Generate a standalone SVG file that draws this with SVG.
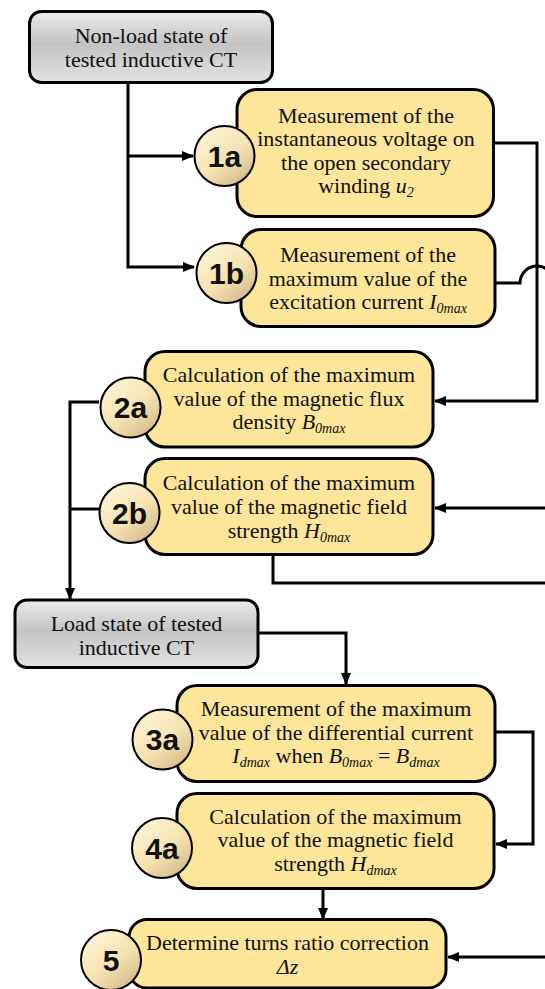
<svg xmlns="http://www.w3.org/2000/svg" width="545" height="989" viewBox="0 0 545 989">
<defs>
<linearGradient id="gGray" x1="0" y1="0" x2="0" y2="1">
<stop offset="0" stop-color="#ececec"/>
<stop offset="0.45" stop-color="#c3c3c3"/>
<stop offset="1" stop-color="#e2e2e2"/>
</linearGradient>
<linearGradient id="gCircle" x1="0.2" y1="0.1" x2="0.85" y2="0.9">
<stop offset="0" stop-color="#fdf3d2"/>
<stop offset="0.55" stop-color="#f4e2b0"/>
<stop offset="1" stop-color="#d6bd8c"/>
</linearGradient>
<marker id="arr" markerUnits="userSpaceOnUse" markerWidth="12" markerHeight="10" refX="11" refY="5" orient="auto">
<path d="M0,0 L12,5 L0,10 Z" fill="#000"/>
</marker>
</defs>
<style>
.gray{fill:url(#gGray);stroke:#000;stroke-width:3}
.box{fill:#fde59a;stroke:#000;stroke-width:3}
.circ{fill:url(#gCircle);stroke:#000;stroke-width:2}
.t{font-family:"Liberation Serif","Times New Roman",serif;font-size:22px;fill:#111;text-anchor:middle}
.num{font-family:"Liberation Sans",Arial,sans-serif;font-size:30px;font-weight:bold;fill:#111;text-anchor:middle}
.i{font-style:italic}
.s{font-size:14px;font-style:italic}
.c{fill:none;stroke:#000;stroke-width:3}
</style>

<g id="connectors">
<path class="c" d="M128 83 V267 H194" marker-end="url(#arr)"/>
<path class="c" d="M128 156 H193" marker-end="url(#arr)"/>
<path class="c" d="M494 143 H537 V401 H435" marker-end="url(#arr)"/>
<path class="c" d="M495 283 H520 A17 17 0 0 1 554 283 H560"/>
<path class="c" d="M99 402 H70 V599" marker-end="url(#arr)"/>
<path class="c" d="M99 509 H70"/>
<path class="c" d="M560 508 H435" marker-end="url(#arr)"/>
<path class="c" d="M273 555 V583 H560"/>
<path class="c" d="M258 633 H346 V684" marker-end="url(#arr)"/>
<path class="c" d="M495 732 H533 V844 H496" marker-end="url(#arr)"/>
<path class="c" d="M323 889 V919" marker-end="url(#arr)"/>
<path class="c" d="M560 957 H448" marker-end="url(#arr)"/>
</g>

<g id="nonload">
<rect class="gray" x="29.5" y="11.5" width="243" height="71" rx="12"/>
<text class="t" x="151" y="43">Non-load state of</text>
<text class="t" x="151" y="66.5">tested inductive CT</text>
</g>

<g id="n1a">
<rect class="box" x="237" y="89.5" width="256.5" height="127" rx="20"/>
<text class="t" x="366" y="122.5">Measurement of the</text>
<text class="t" x="366" y="146">instantaneous voltage on</text>
<text class="t" x="366" y="169.5">the open secondary</text>
<text class="t" x="366" y="192.5">winding <tspan class="i">u</tspan><tspan class="s" dy="4">2</tspan></text>
<circle class="circ" cx="224.5" cy="156" r="30"/>
<text class="num" x="224.5" y="166.5">1a</text>
</g>

<g id="n1b">
<rect class="box" x="241" y="229.5" width="254" height="97" rx="20"/>
<text class="t" x="368" y="262">Measurement of the</text>
<text class="t" x="368" y="285.5">maximum value of the</text>
<text class="t" x="368" y="309">excitation current <tspan class="i">I</tspan><tspan class="s" dy="4">0max</tspan></text>
<circle class="circ" cx="226.5" cy="273" r="30"/>
<text class="num" x="226.5" y="283.5">1b</text>
</g>

<g id="n2a">
<rect class="box" x="145" y="351.5" width="288" height="95.5" rx="20"/>
<text class="t" x="289" y="382">Calculation of the maximum</text>
<text class="t" x="289" y="405.5">value of the magnetic flux</text>
<text class="t" x="289" y="429">density <tspan class="i">B</tspan><tspan class="s" dy="4">0max</tspan></text>
<circle class="circ" cx="130.5" cy="407.5" r="30"/>
<text class="num" x="130.5" y="418">2a</text>
</g>

<g id="n2b">
<rect class="box" x="145" y="458.5" width="288" height="96" rx="20"/>
<text class="t" x="289" y="490">Calculation of the maximum</text>
<text class="t" x="289" y="514">value of the magnetic field</text>
<text class="t" x="289" y="538">strength <tspan class="i">H</tspan><tspan class="s" dy="4">0max</tspan></text>
<circle class="circ" cx="129.5" cy="513" r="30"/>
<text class="num" x="129.5" y="523.5">2b</text>
</g>

<g id="load">
<rect class="gray" x="15" y="600" width="243" height="67.5" rx="12"/>
<text class="t" x="136.5" y="630.5">Load state of tested</text>
<text class="t" x="136.5" y="654.5">inductive CT</text>
</g>

<g id="n3a">
<rect class="box" x="177" y="685.5" width="318" height="96" rx="20"/>
<text class="t" x="336" y="716">Measurement of the maximum</text>
<text class="t" x="336" y="739.5">value of the differential current</text>
<text class="t" x="336" y="763"><tspan class="i">I</tspan><tspan class="s" dy="4">dmax</tspan><tspan dy="-4"> when </tspan><tspan class="i">B</tspan><tspan class="s" dy="4">0max</tspan><tspan dy="-4"> = </tspan><tspan class="i">B</tspan><tspan class="s" dy="4">dmax</tspan></text>
<circle class="circ" cx="162.5" cy="739.5" r="30"/>
<text class="num" x="162.5" y="750">3a</text>
</g>

<g id="n4a">
<rect class="box" x="177" y="793.5" width="317" height="95" rx="20"/>
<text class="t" x="335.5" y="823.5">Calculation of the maximum</text>
<text class="t" x="335.5" y="847">value of the magnetic field</text>
<text class="t" x="335.5" y="871">strength <tspan class="i">H</tspan><tspan class="s" dy="4">dmax</tspan></text>
<circle class="circ" cx="162" cy="848" r="30"/>
<text class="num" x="162" y="858.5">4a</text>
</g>

<g id="n5">
<rect class="box" x="129" y="919.5" width="317" height="68.5" rx="18"/>
<text class="t" x="287.5" y="949.5">Determine turns ratio correction</text>
<text class="t i" x="287.5" y="974">Δz</text>
<circle class="circ" cx="111" cy="960" r="30"/>
<text class="num" x="111" y="970.5">5</text>
</g>
</svg>
